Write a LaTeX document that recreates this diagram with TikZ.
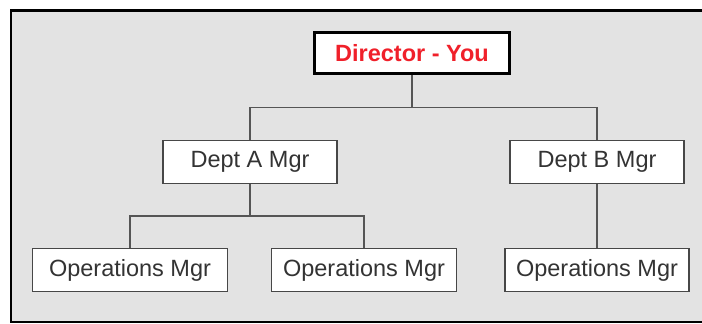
\documentclass[tikz,border=0pt]{standalone}
\usepackage{fontspec}
\setmainfont{Liberation Sans}
\usetikzlibrary{calc}
\definecolor{panelgray}{HTML}{E3E3E3}
\definecolor{boxline}{HTML}{474747}
\definecolor{linkgray}{HTML}{555555}
\definecolor{mgrtext}{HTML}{333333}
\definecolor{youred}{HTML}{F0202A}

\begin{document}
\begin{tikzpicture}[x=1pt, y=-1pt,
  every node/.style={font=\fontsize{23.5}{27}\selectfont},
  mgrbox/.style={draw=boxline, line width=1.3pt, fill=white, text=mgrtext, minimum height=43pt, inner sep=0pt},
  topbox/.style={draw=black, line width=3.5pt, fill=white, text=youred, font=\fontsize{23.5}{27}\selectfont\bfseries, minimum width=195pt, minimum height=41pt, inner sep=0pt},
  link/.style={draw=linkgray, line width=1.4pt}]
\useasboundingbox (0,0) rectangle (702,324);
\fill[white] (0,0) rectangle (702,324);
\draw[line width=2.6pt, fill=panelgray] (11,10.5) rectangle (724,322);
% top of the chart
\node[topbox] (dir) at (412,53) {Director - You};
\node[mgrbox, minimum width=174pt] (depta) at (250,162) {Dept A Mgr};
\node[mgrbox, minimum width=174pt] (deptb) at (597,162) {Dept B Mgr};
% operations row
\node[mgrbox, minimum width=195pt] (opsa) at (130,270) {Operations Mgr};
\node[mgrbox, minimum width=185pt] (opsb) at (364,270) {Operations Mgr};
\node[mgrbox, minimum width=184pt] (opsc) at (597,270) {Operations Mgr};
% connectors
\draw[link] (dir.south) |- ($(dir.south)!.5!(depta.north)$) -| (depta.north);
\draw[link] (dir.south) |- ($(dir.south)!.5!(deptb.north)$) -| (deptb.north);
\draw[link] (depta.south) |- ($(depta.south)!.5!(opsa.north)$) -| (opsa.north);
\draw[link] (depta.south) |- ($(depta.south)!.5!(opsb.north)$) -| (opsb.north);
\draw[link] (deptb.south) -- (opsc.north);
\end{tikzpicture}
\end{document}
